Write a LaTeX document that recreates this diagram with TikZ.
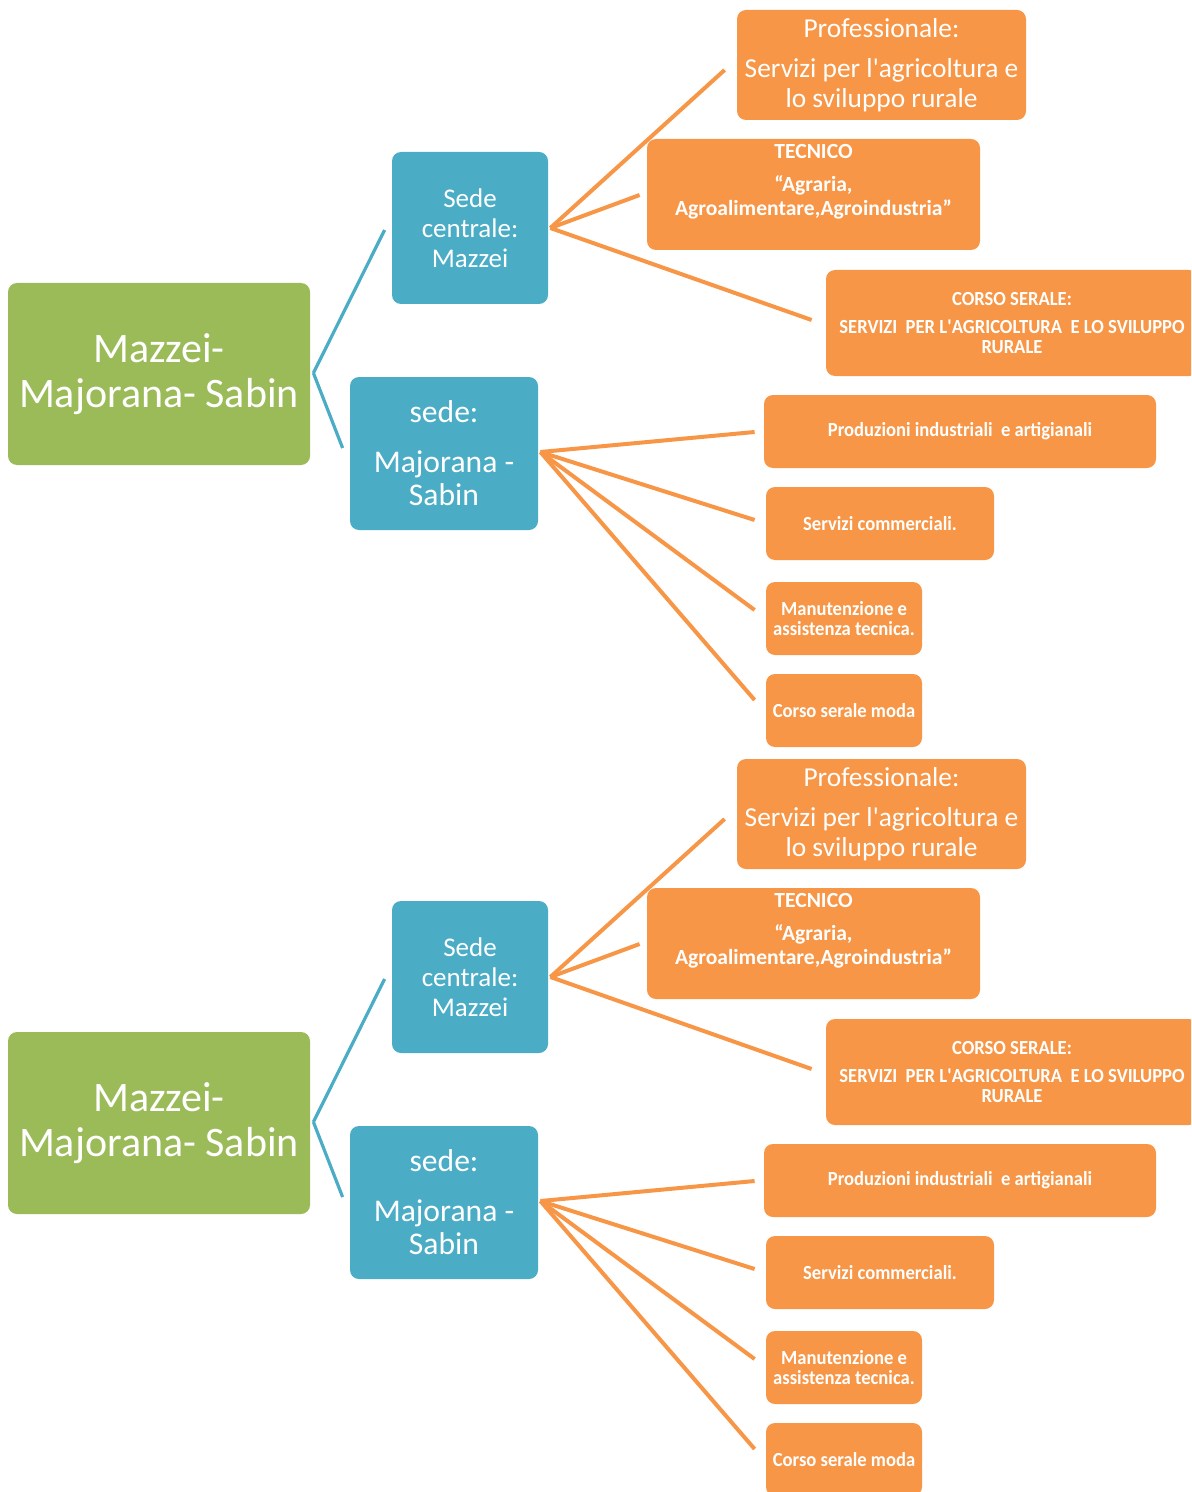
\documentclass[tikz,border=0pt]{standalone}
\usepackage{fontspec}
\setmainfont{Carlito}
\newfontfamily\condfont{Carlito}[FakeStretch=0.93]
\usetikzlibrary{calc,backgrounds}
\definecolor{grn}{HTML}{9BBB59}
\definecolor{blu}{HTML}{4BACC6}
\definecolor{org}{HTML}{F79646}
\newcommand\sq{\textquotesingle}
\tikzset{
  box/.style={rounded corners=4.5pt, text=white, align=center, inner sep=0pt},
  rootbox/.style={box, fill=grn},
  midbox/.style={box, fill=blu},
  leafbox/.style={box, fill=org},
  bline/.style={draw=blu, line width=1.6pt},
  oline/.style={draw=org, line width=2pt},
  smallfont/.style={font=\condfont\bfseries\fontsize{10}{10}\selectfont}
}
\begin{document}
\begin{tikzpicture}[x=0.5pt,y=-0.5pt]
\useasboundingbox (0,0) rectangle (1191,1492);
\clip (0,0) rectangle (1191,1492);
\foreach \p/\dy in {a/0,b/749}{
\begin{scope}[shift={(0,\dy)}, name prefix=\p-]
  \node[rootbox, minimum width=151pt, minimum height=91pt,
        font=\fontsize{21}{22.5}\selectfont] (root) at (159,374) {Mazzei-\\Majorana- Sabin};
  \node[midbox, minimum width=78pt, minimum height=76pt,
        font=\fontsize{13.5}{15}\selectfont] (sc) at (470,228) {Sede\\centrale:\\Mazzei};
  \node[midbox, minimum width=94pt, minimum height=76.5pt,
        font=\fontsize{15.8}{16.5}\selectfont] (sm) at (444,453.5) {sede:\\[8.5pt]Majorana -\\Sabin};
  \node[leafbox, minimum width=144.5pt, minimum height=55pt,
        font=\fontsize{13.7}{15}\selectfont] (p1) at (881.5,65)
        {Professionale:\\[5pt]Servizi per l\sq agricoltura e\\lo sviluppo rurale};
  \node[leafbox, minimum width=166.5pt, minimum height=55.5pt,
        font=\bfseries\fontsize{10.8}{12}\selectfont] (p2) at (813.5,194.5)
        {TECNICO\\[4.5pt]“Agraria,\\Agroalimentare,Agroindustria”\\[3pt]\mbox{}};
  \node[leafbox, smallfont, minimum width=186pt, minimum height=53pt] (p3) at (1012,323)
        {CORSO SERALE:\\[4pt]SERVIZI~~PER L\sq AGRICOLTURA~~E LO SVILUPPO\\RURALE};
  \node[leafbox, smallfont, minimum width=196pt, minimum height=36.5pt] (m1) at (960,431.5)
        {Produzioni industriali~~e artigianali};
  \node[leafbox, smallfont, minimum width=114pt, minimum height=36.5pt] (m2) at (880,523.5)
        {Servizi commerciali.};
  \node[leafbox, smallfont, minimum width=78pt, minimum height=36.5pt] (m3) at (844,618.5)
        {Manutenzione e\\assistenza tecnica.};
  \node[leafbox, smallfont, minimum width=78pt, minimum height=36.5pt] (m4) at (844,710.5)
        {Corso serale moda};
  \begin{scope}[on background layer]
    \draw[bline] ($(root.east)+(3,-1)$) -- ($(sc.west)+(-7,2)$);
    \draw[bline] ($(root.east)+(3,-1)$) -- ($(sm.west)+(-7,-5.5)$);
    \draw[oline] ($(sc.east)+(2,0)$) -- ($(p1.west)+(-12,5)$);
    \draw[oline] ($(sc.east)+(2,0)$) -- ($(p2.west)+(-7,0.5)$);
    \draw[oline] ($(sc.east)+(2,0)$) -- ($(p3.west)+(-14,-3)$);
    \draw[oline] ($(sm.east)+(2,-1.5)$) -- ($(m1.west)+(-9,0.5)$);
    \draw[oline] ($(sm.east)+(2,-1.5)$) -- ($(m2.west)+(-11,-3.5)$);
    \draw[oline] ($(sm.east)+(2,-1.5)$) -- ($(m3.west)+(-11,-8.5)$);
    \draw[oline] ($(sm.east)+(2,-1.5)$) -- ($(m4.west)+(-11,-10.5)$);
  \end{scope}
\end{scope}
}
\end{tikzpicture}
\end{document}
